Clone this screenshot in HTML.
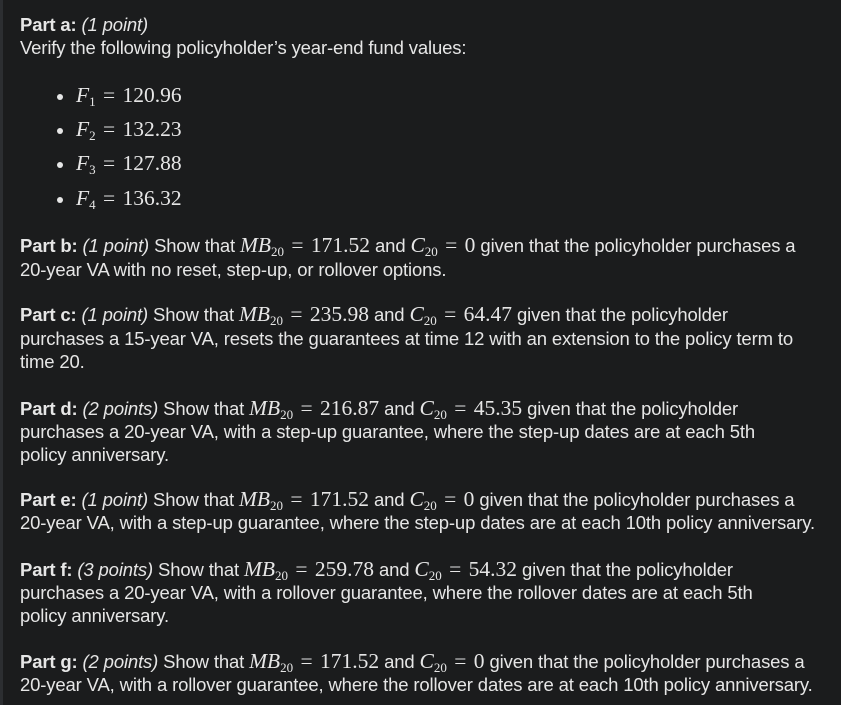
<!DOCTYPE html>
<html><head><meta charset="utf-8"><style>
html,body{margin:0;padding:0;}
body{width:841px;height:705px;background:#1b1c1d;position:relative;overflow:hidden;font-family:"Liberation Sans",sans-serif;color:#e6e6e6;font-size:18.5px;}
.bar{position:absolute;left:0;top:0;width:3px;height:705px;background:#2c2e31;}
.l{position:absolute;left:20px;white-space:nowrap;line-height:23px;height:23px;letter-spacing:-0.15px;}
b{font-weight:bold;}
.m{font-family:"Liberation Serif",serif;font-size:21.5px;letter-spacing:0;word-spacing:2px;}
.m i{font-style:italic;}
sub{font-size:13px;vertical-align:-4px;line-height:0;}
.li{position:absolute;left:57px;white-space:nowrap;line-height:24px;}
.dot{display:inline-block;width:6px;height:6px;border-radius:3px;background:#e6e6e6;margin-right:13px;vertical-align:middle;}
</style></head><body>
<div class="bar"></div>
<div class="l" style="top:13px"><b>Part a:</b> <i>(1 point)</i></div>
<div class="l" style="top:36px">Verify the following policyholder’s year-end fund values:</div>
<div class="li" style="top:83px"><span class="dot"></span><span class="m"><i>F</i><sub>1</sub> = 120.96</span></div>
<div class="li" style="top:117px"><span class="dot"></span><span class="m"><i>F</i><sub>2</sub> = 132.23</span></div>
<div class="li" style="top:151px"><span class="dot"></span><span class="m"><i>F</i><sub>3</sub> = 127.88</span></div>
<div class="li" style="top:186px"><span class="dot"></span><span class="m"><i>F</i><sub>4</sub> = 136.32</span></div>

<div class="l" style="top:234px"><b>Part b:</b> <i>(1 point)</i> Show that <span class="m"><i>MB</i><sub>20</sub> = 171.52</span> and <span class="m"><i>C</i><sub>20</sub> = 0</span> given that the policyholder purchases a</div>
<div class="l" style="top:258px">20-year VA with no reset, step-up, or rollover options.</div>

<div class="l" style="top:303px"><b>Part c:</b> <i>(1 point)</i> Show that <span class="m"><i>MB</i><sub>20</sub> = 235.98</span> and <span class="m"><i>C</i><sub>20</sub> = 64.47</span> given that the policyholder</div>
<div class="l" style="top:327px">purchases a 15-year VA, resets the guarantees at time 12 with an extension to the policy term to</div>
<div class="l" style="top:350px">time 20.</div>

<div class="l" style="top:397px"><b>Part d:</b> <i>(2 points)</i> Show that <span class="m"><i>MB</i><sub>20</sub> = 216.87</span> and <span class="m"><i>C</i><sub>20</sub> = 45.35</span> given that the policyholder</div>
<div class="l" style="top:420px">purchases a 20-year VA, with a step-up guarantee, where the step-up dates are at each 5th</div>
<div class="l" style="top:443px">policy anniversary.</div>

<div class="l" style="top:488px"><b>Part e:</b> <i>(1 point)</i> Show that <span class="m"><i>MB</i><sub>20</sub> = 171.52</span> and <span class="m"><i>C</i><sub>20</sub> = 0</span> given that the policyholder purchases a</div>
<div class="l" style="top:511px">20-year VA, with a step-up guarantee, where the step-up dates are at each 10th policy anniversary.</div>

<div class="l" style="top:558px"><b>Part f:</b> <i>(3 points)</i> Show that <span class="m"><i>MB</i><sub>20</sub> = 259.78</span> and <span class="m"><i>C</i><sub>20</sub> = 54.32</span> given that the policyholder</div>
<div class="l" style="top:581px">purchases a 20-year VA, with a rollover guarantee, where the rollover dates are at each 5th</div>
<div class="l" style="top:604px">policy anniversary.</div>

<div class="l" style="top:650px"><b>Part g:</b> <i>(2 points)</i> Show that <span class="m"><i>MB</i><sub>20</sub> = 171.52</span> and <span class="m"><i>C</i><sub>20</sub> = 0</span> given that the policyholder purchases a</div>
<div class="l" style="top:673px">20-year VA, with a rollover guarantee, where the rollover dates are at each 10th policy anniversary.</div>
</body></html>
